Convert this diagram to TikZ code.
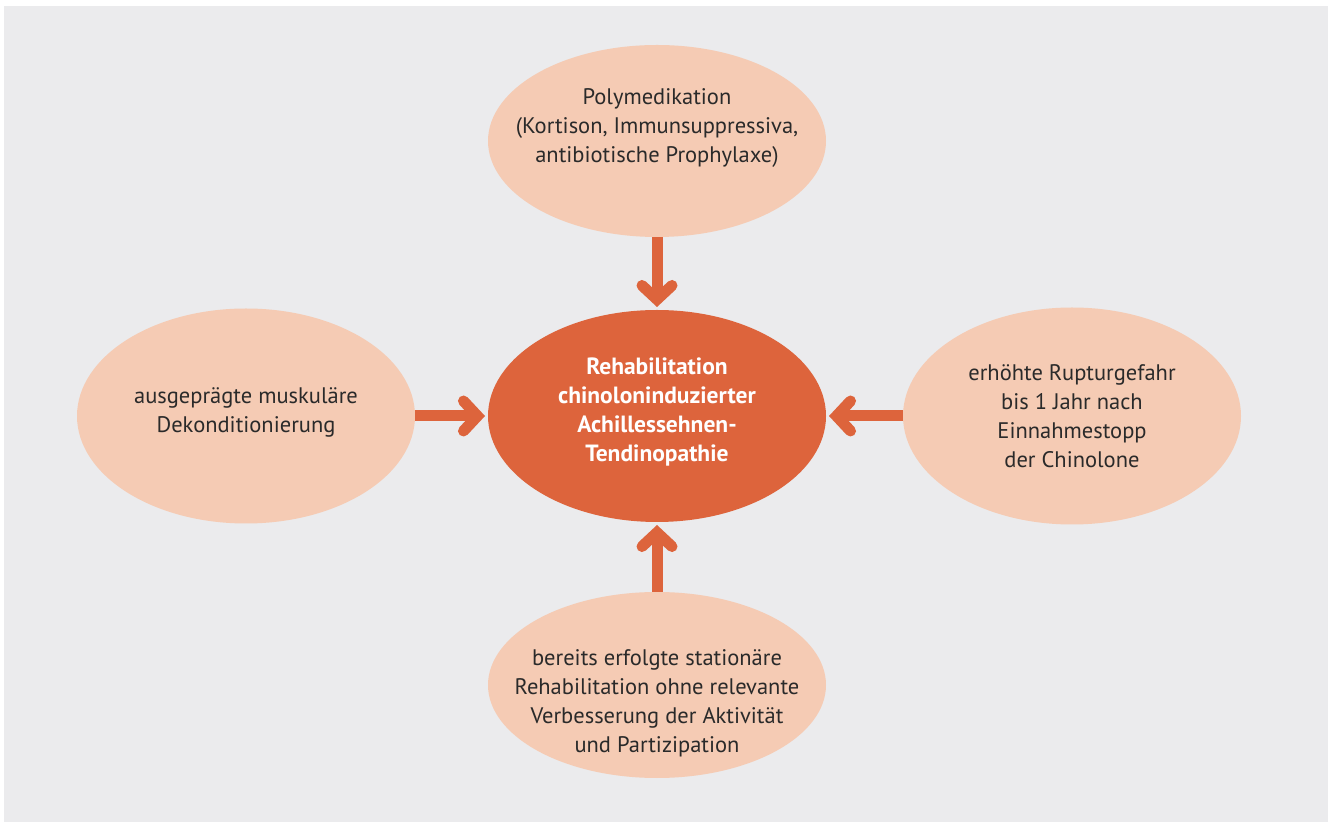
\documentclass[tikz,border=0pt]{standalone}
\usepackage{fontspec}
\setmainfont{PT Sans}
\usetikzlibrary{arrows.meta,shapes,positioning}
\definecolor{peach}{HTML}{F5CBB4}
\definecolor{rust}{HTML}{DD643C}
\definecolor{bggray}{HTML}{EBEBED}
\definecolor{txtgray}{HTML}{2A2A2A}

\begin{document}
\begin{tikzpicture}
      \tikzstyle{softblock}=[ellipse, fill=peach, inner sep=0pt, outer sep=0pt, minimum width=338pt, text=txtgray, align=center, font=\fontsize{22.5}{29}\selectfont]
      \tikzstyle{mainblock}=[softblock, fill=rust]
      \tikzstyle{softtext}=[text=txtgray, align=center, font=\fontsize{22.5}{29}\selectfont]
      \tikzstyle{maintext}=[text=white, align=center, font=\bfseries\fontsize{23.5}{29}\selectfont]
      \tikzstyle{bigarrow}=[rust, line width=11pt, -{Straight Barb[length=14pt,width=30pt,line cap=round,line join=miter]}, shorten >=3pt]
      \useasboundingbox (0,0) rectangle (1333pt,822pt);
      \fill[bggray] (4pt,0pt) rectangle (1328pt,816pt);
      \node[mainblock, minimum height=212pt,
        label={[maintext, yshift=4pt]center:Rehabilitation\\chinoloninduzierter\\Achillessehnen-\\Tendinopathie}] (rehab) at (657pt,406pt) {};
      \node[softblock, minimum height=192pt, above = 73pt of rehab,
        label={[softtext, yshift=13pt]center:Polymedikation\\(Kortison, Immunsuppressiva,\\antibiotische Prophylaxe)}] (poly) {};
      \node[softblock, minimum height=215pt, left = 73pt of rehab,
        label={[softtext, yshift=4pt]center:ausgeprägte muskuläre\\Dekonditionierung}] (muskel) {};
      \node[softblock, minimum height=217pt, right = 77pt of rehab] (ruptur) {erhöhte Rupturgefahr\\bis 1 Jahr nach\\Einnahmestopp\\der Chinolone};
      \node[softblock, minimum height=186pt, below = 70pt of rehab,
        label={[softtext, yshift=-18pt]center:bereits erfolgte stationäre\\Rehabilitation ohne relevante\\Verbesserung der Aktivität\\und Partizipation}] (stationaer) {};
      \draw [bigarrow] (poly) -- (rehab);
      \draw [bigarrow] (muskel) -- (rehab);
      \draw [bigarrow] (ruptur) -- (rehab);
      \draw [bigarrow] (stationaer) -- (rehab);
    \end{tikzpicture}
\end{document}
